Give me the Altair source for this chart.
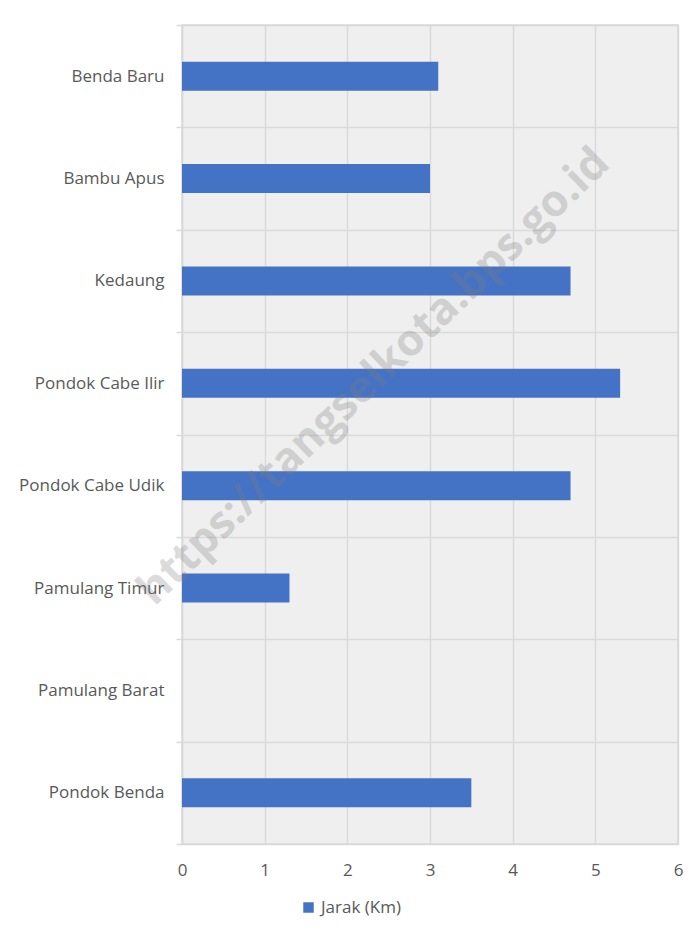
import altair as alt
import pandas as pd

categories = ["Benda Baru", "Bambu Apus", "Kedaung", "Pondok Cabe Ilir",
              "Pondok Cabe Udik", "Pamulang Timur", "Pamulang Barat", "Pondok Benda"]
values = [3.1, 3.0, 4.7, 5.3, 4.7, 1.3, None, 3.5]
series_name = "Jarak (Km)"
x_ticks = [0, 1, 2, 3, 4, 5, 6]
watermark = "https://tangselkota.bps.go.id"

df = pd.DataFrame({"Kelurahan": categories, "Jarak": values, "Seri": [series_name] * len(categories)})

FONT = "Open Sans"
TXT = "#595959"
GRID = "#d9d9d9"

bars = alt.Chart(df).mark_bar(size=29).encode(
    y=alt.Y("Kelurahan:N", sort=categories,
            scale=alt.Scale(paddingInner=0, paddingOuter=0),
            axis=alt.Axis(title=None, tickBand="extent", grid=True, gridColor=GRID, gridWidth=1.5,
                          tickColor=GRID, tickSize=6, tickWidth=1.5, domainColor=GRID, domainWidth=1.5,
                          labelPadding=12, labelFontSize=17, labelColor=TXT, labelFont=FONT)),
    x=alt.X("Jarak:Q", scale=alt.Scale(domain=[0, 6], nice=False),
            axis=alt.Axis(title=None, values=x_ticks, grid=True, gridColor=GRID, gridWidth=1.5,
                          ticks=False, domain=False, labelPadding=18, labelFontSize=17,
                          labelFlush=False, labelColor=TXT, labelFont=FONT, format="d")),
    color=alt.Color("Seri:N", scale=alt.Scale(range=["#4472c4"]),
                    legend=alt.Legend(title=None, orient="none", legendX=118, legendY=874,
                                      symbolType="square", symbolSize=110, symbolStrokeWidth=0,
                                      labelFontSize=17, labelColor=TXT, labelFont=FONT,
                                      symbolOffset=0, labelOffset=4)),
)

wm = alt.Chart(pd.DataFrame({"wm": [watermark]})).mark_text(
    fontSize=44, fontWeight="bold", font=FONT, color="#7f7f7f", angle=316, opacity=0.28
).encode(text="wm:N", x=alt.value(192), y=alt.value(352))

chart = alt.layer(bars, wm).properties(
    width=496, height=819,
    autosize=alt.AutoSizeParams(type="none"),
    padding={"left": 174, "top": 17, "right": 12, "bottom": 80},
    background="white",
).configure_view(fill="#efefef", stroke=GRID, strokeWidth=1.5)

chart.save("out.html", embed_options={"renderer": "svg", "actions": False})
